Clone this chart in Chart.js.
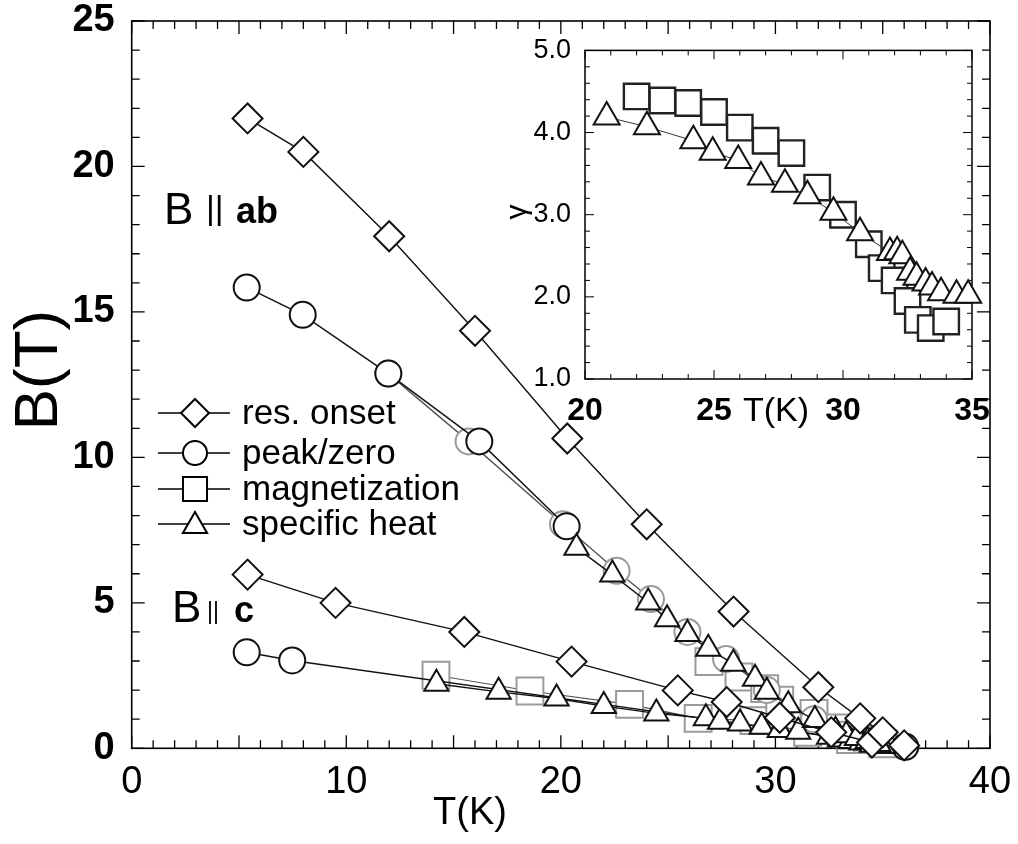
<!DOCTYPE html>
<html><head><meta charset="utf-8">
<script src="https://cdn.jsdelivr.net/npm/chart.js@4.4.0/dist/chart.umd.min.js"></script>
<style>
html,body{margin:0;padding:0;background:#fff;}
#wrap{position:relative;width:1018px;height:844px;overflow:hidden;}
#main{position:absolute;left:0;top:0;}
#inset{position:absolute;left:500px;top:30px;}
</style></head><body>
<div id="wrap">
<canvas id="main" width="1018" height="844"></canvas>
<canvas id="inset" width="500" height="410"></canvas>
</div>
<script>
// ---------- Main panel data: B (T) vs T (K) ----------
const xTickLabels = [0, 10, 20, 30, 40];
const yTickLabels = [0, 5, 10, 15, 20, 25];

const resAbT = [5.4, 8.0, 12.0, 16.0, 20.3, 24.0, 28.05, 32.0, 33.95, 35.0, 36.0];
const resAbB = [21.65, 20.5, 17.6, 14.35, 10.65, 7.7, 4.7, 2.1, 1.03, 0.55, 0.1];

const resCT = [5.4, 9.5, 15.5, 20.5, 25.45, 27.73, 30.2, 32.6, 34.5];
const resCB = [5.97, 5.0, 4.0, 2.98, 1.99, 1.59, 1.05, 0.55, 0.2];

const peakAbT = [5.36, 7.97, 11.96, 16.2, 20.27];
const peakAbB = [15.84, 14.9, 12.88, 10.55, 7.63];

const zeroAbT = [11.96, 15.7, 20.1, 22.6, 24.2, 25.9, 27.7, 29.6, 31.8, 34.0, 36.05];
const zeroAbB = [12.88, 10.55, 7.7, 6.1, 5.13, 4.0, 3.07, 2.0, 1.0, 0.35, 0.05];

const peakCT = [5.36, 7.48, 36.05];
const peakCB = [3.30, 3.02, 0.05];

const magAbT = [26.9, 28.3, 29.5, 30.2, 31.8, 32.8, 33.6, 34.3, 35.0];
const magAbB = [2.98, 2.45, 2.05, 1.65, 1.2, 0.7, 0.45, 0.3, 0.15];

const magCT = [14.18, 18.56, 23.2, 26.4, 29.0, 31.5, 33.5];
const magCB = [2.51, 1.97, 1.51, 1.03, 0.95, 0.55, 0.3];

const heatAbT = [20.73, 22.4, 24.07, 24.95, 25.9, 26.87, 28.04, 29.05, 29.6, 30.6, 31.84, 32.8, 33.3, 33.8, 34.3, 34.8];
const heatAbB = [6.89, 5.97, 5.01, 4.44, 3.93, 3.42, 2.91, 2.39, 1.94, 1.48, 0.97, 0.6, 0.45, 0.35, 0.25, 0.15];

const heatCT = [14.2, 17.1, 19.8, 22.0, 24.45, 26.76, 27.42, 28.35, 29.36, 30.2, 31.06, 32.5, 33.0, 33.5, 34.0, 34.5, 35.0];
const heatCB = [2.22, 1.94, 1.71, 1.45, 1.2, 1.03, 0.91, 0.85, 0.74, 0.63, 0.57, 0.4, 0.3, 0.25, 0.2, 0.12, 0.08];

// ---------- Inset data: gamma vs T (K) ----------
const insetXTickLabels = [20, 25, 30, 35];
const insetYTickLabels = [1.0, 2.0, 3.0, 4.0, 5.0];

const gammaMagT = [22.0, 23.0, 24.0, 25.0, 26.0, 27.0, 28.0, 29.0, 30.0, 31.0, 31.5, 32.0, 32.5, 32.9, 33.4, 34.0];
const gammaMagV = [4.44, 4.39, 4.36, 4.25, 4.06, 3.90, 3.75, 3.33, 3.0, 2.64, 2.35, 2.2, 1.95, 1.72, 1.62, 1.7];

const gammaHeatT = [20.84, 22.4, 24.2, 24.95, 25.94, 26.82, 27.75, 28.62, 29.63, 30.66, 31.82, 32.1, 32.3, 32.6, 32.85, 33.2, 33.45, 33.8, 34.4, 34.85];
const gammaHeatV = [4.19, 4.07, 3.90, 3.76, 3.66, 3.46, 3.37, 3.23, 3.03, 2.78, 2.54, 2.55, 2.5, 2.3, 2.24, 2.17, 2.12, 2.05, 2.02, 2.02];

const legendLabels = ['res. onset', 'peak/zero', 'magnetization', 'specific heat'];

function pts(xs, ys) { return xs.map((x, i) => ({x: x, y: ys[i]})); }

const FONT = "'Liberation Sans', Arial, Helvetica, sans-serif";

function series(label, xs, ys, style, r, col, lineCol, lw) {
  return {
    label: label, data: pts(xs, ys), showLine: true,
    borderColor: lineCol, borderWidth: lw,
    pointStyle: style, pointRadius: r, pointHoverRadius: r,
    pointBorderColor: col, pointBackgroundColor: '#fff', pointBorderWidth: 2,
    clip: false
  };
}

function drawMarker(ctx, style, x, y, r) {
  ctx.beginPath();
  if (style === 'rectRot') {
    ctx.moveTo(x, y - r); ctx.lineTo(x + r, y); ctx.lineTo(x, y + r); ctx.lineTo(x - r, y); ctx.closePath();
  } else if (style === 'circle') {
    ctx.arc(x, y, r, 0, Math.PI * 2);
  } else if (style === 'rect') {
    const s = r * Math.SQRT1_2; ctx.rect(x - s, y - s, 2 * s, 2 * s);
  } else if (style === 'triangle') {
    ctx.moveTo(x, y - r);
    ctx.lineTo(x + r * Math.sin(2 * Math.PI / 3), y - r * Math.cos(2 * Math.PI / 3));
    ctx.lineTo(x + r * Math.sin(4 * Math.PI / 3), y - r * Math.cos(4 * Math.PI / 3));
    ctx.closePath();
  }
  ctx.fillStyle = '#fff'; ctx.fill(); ctx.stroke();
}

function zeroPad(s) { s.paddingTop = 0; s.paddingBottom = 0; s.paddingLeft = 0; s.paddingRight = 0; }

function frameTicks(o) {
  return {
    id: 'frameTicks_' + o.name,
    beforeDatasetsDraw(chart) {
      const ctx = chart.ctx, a = chart.chartArea, x = chart.scales.x, y = chart.scales.y;
      ctx.save();
      ctx.strokeStyle = '#000'; ctx.lineWidth = o.lw;
      ctx.strokeRect(a.left, a.top, a.right - a.left, a.bottom - a.top);
      ctx.lineWidth = o.tlw;
      const eps = 1e-6;
      const nx = Math.round((x.max - x.min) / o.xMinor);
      for (let i = 0; i <= nx; i++) {
        const v = x.min + i * o.xMinor;
        const p = x.getPixelForValue(v);
        const q = v / o.xMajor;
        const L = Math.abs(q - Math.round(q)) < eps ? o.majorLen : o.minorLen;
        ctx.beginPath();
        ctx.moveTo(p, a.bottom); ctx.lineTo(p, a.bottom - L);
        ctx.moveTo(p, a.top); ctx.lineTo(p, a.top + L);
        ctx.stroke();
      }
      const ny = Math.round((y.max - y.min) / o.yMinor);
      for (let i = 0; i <= ny; i++) {
        const v = y.min + i * o.yMinor;
        const p = y.getPixelForValue(v);
        const q = v / o.yMajor;
        const L = Math.abs(q - Math.round(q)) < eps ? o.majorLen : o.minorLen;
        ctx.beginPath();
        ctx.moveTo(a.left, p); ctx.lineTo(a.left + L, p);
        ctx.moveTo(a.right, p); ctx.lineTo(a.right - L, p);
        ctx.stroke();
      }
      ctx.restore();
    }
  };
}

const mainText = {
  id: 'mainText',
  afterDraw(chart) {
    const ctx = chart.ctx;
    ctx.save();
    ctx.fillStyle = '#000';
    ctx.textBaseline = 'middle';
    // axis titles
    ctx.textAlign = 'center';
    ctx.font = '38px ' + FONT;
    ctx.fillText('T(K)', 470, 814);
    ctx.save();
    ctx.translate(40, 370); ctx.rotate(-Math.PI / 2);
    ctx.font = '62px ' + FONT;
    ctx.fillText('B(T)', 0, 0);
    ctx.restore();
    // legend
    const styles = ['rectRot', 'circle', 'rect', 'triangle'];
    const radii = [14, 12, 17, 14];
    const rows = [413, 453, 489, 524];
    ctx.strokeStyle = '#000'; ctx.lineWidth = 1.6;
    ctx.textAlign = 'left';
    ctx.font = '35px ' + FONT;
    for (let i = 0; i < 4; i++) {
      const yy = rows[i];
      ctx.beginPath(); ctx.moveTo(158, yy); ctx.lineTo(230, yy); ctx.stroke();
      ctx.lineWidth = 2;
      drawMarker(ctx, styles[i], 195, yy + (i === 3 ? 2 : 0), radii[i]);
      ctx.lineWidth = 1.6;
      ctx.fillStyle = '#000';
      ctx.fillText(legendLabels[i], 242, yy + 1);
    }
    // field orientation labels
    ctx.textBaseline = 'alphabetic';
    ctx.font = '44px ' + FONT; ctx.fillText('B', 164, 224);
    ctx.font = '34px ' + FONT; ctx.fillText('||', 206, 219);
    ctx.font = 'bold 36px ' + FONT; ctx.fillText('ab', 236, 223);
    ctx.font = '44px ' + FONT; ctx.fillText('B', 172, 622);
    ctx.font = '23px ' + FONT; ctx.fillText('||', 207, 619);
    ctx.font = 'bold 36px ' + FONT; ctx.fillText('c', 234, 622);
    ctx.restore();
  }
};

const BLACK = '#111', GRAY = '#9a9a9a';

new Chart(document.getElementById('main'), {
  type: 'scatter',
  data: {
    datasets: [
      series('res. onset B||ab', resAbT, resAbB, 'rectRot', 15, BLACK, BLACK, 1.4),
      series('res. onset B||c', resCT, resCB, 'rectRot', 15, BLACK, BLACK, 1.4),
      series('specific heat B||ab', heatAbT, heatAbB, 'triangle', 14, BLACK, BLACK, 1.4),
      series('specific heat B||c', heatCT, heatCB, 'triangle', 14, BLACK, BLACK, 1.4),
      series('peak B||ab', peakAbT, peakAbB, 'circle', 13, BLACK, BLACK, 1.4),
      series('peak B||c', peakCT, peakCB, 'circle', 13, BLACK, BLACK, 1.4),
      series('zero B||ab', zeroAbT, zeroAbB, 'circle', 13, GRAY, '#555', 1.4),
      series('magnetization B||ab', magAbT, magAbB, 'rect', 19, GRAY, GRAY, 1.2),
      series('magnetization B||c', magCT, magCB, 'rect', 19, GRAY, '#555', 1.2)
    ]
  },
  options: {
    responsive: false, animation: false, devicePixelRatio: 1,
    layout: {padding: {left: 0, top: 17, right: 28, bottom: 0}},
    plugins: {legend: {display: false}, tooltip: {enabled: false}},
    scales: {
      x: {
        type: 'linear', min: 0, max: 40,
        afterBuildTicks(s) { s.ticks = xTickLabels.map(v => ({value: v})); },
        ticks: {color: '#000', font: {family: FONT, size: 38}, padding: 3, maxRotation: 0},
        grid: {display: false}, border: {display: false},
        afterFit(s) { s.height = 95.7; zeroPad(s); }
      },
      y: {
        type: 'linear', min: 0, max: 25,
        afterBuildTicks(s) { s.ticks = yTickLabels.map(v => ({value: v})); },
        ticks: {color: '#000', font: {family: FONT, size: 38, weight: 'bold'}, padding: 9},
        grid: {display: false}, border: {display: false},
        afterFit(s) { s.width = 131.7; zeroPad(s); }
      }
    }
  },
  plugins: [frameTicks({name: 'main', lw: 1.6, tlw: 1.3, xMinor: 1, xMajor: 5, yMinor: 1, yMajor: 5, minorLen: 8, majorLen: 13}), mainText]
});

const insetText = {
  id: 'insetText',
  afterDraw(chart) {
    const ctx = chart.ctx;
    ctx.save();
    ctx.fillStyle = '#000'; ctx.textAlign = 'center'; ctx.textBaseline = 'middle';
    ctx.font = '34px ' + FONT;
    ctx.fillText('T(K)', 276, 382);
    ctx.translate(18, 182); ctx.rotate(-Math.PI / 2);
    ctx.font = '30px ' + FONT;
    ctx.fillText('γ', 0, 0);
    ctx.restore();
  }
};

new Chart(document.getElementById('inset'), {
  type: 'scatter',
  data: {
    datasets: [
      {label: 'specific heat', data: pts(gammaHeatT, gammaHeatV), showLine: true, borderColor: '#333', borderWidth: 1,
       pointStyle: 'triangle', pointRadius: 15, pointBorderColor: '#111', pointBackgroundColor: '#fff', pointBorderWidth: 2, clip: false},
      {label: 'magnetization', data: pts(gammaMagT, gammaMagV), showLine: false,
       pointStyle: 'rect', pointRadius: 18, pointBorderColor: '#222', pointBackgroundColor: '#fff', pointBorderWidth: 2.4, clip: false}
    ]
  },
  options: {
    responsive: false, animation: false, devicePixelRatio: 1,
    layout: {padding: {left: 0, top: 20, right: 28, bottom: 0}},
    plugins: {legend: {display: false}, tooltip: {enabled: false}},
    scales: {
      x: {
        type: 'linear', min: 20, max: 35,
        afterBuildTicks(s) { s.ticks = insetXTickLabels.map(v => ({value: v})); },
        ticks: {color: '#000', font: {family: FONT, size: 32, weight: 'bold'}, padding: 5, maxRotation: 0},
        grid: {display: false}, border: {display: false},
        afterFit(s) { s.height = 61; zeroPad(s); }
      },
      y: {
        type: 'linear', min: 1, max: 5,
        afterBuildTicks(s) { s.ticks = insetYTickLabels.map(v => ({value: v})); },
        ticks: {color: '#000', font: {family: FONT, size: 27}, padding: 6, callback: v => Number(v).toFixed(1)},
        grid: {display: false}, border: {display: false},
        afterFit(s) { s.width = 85; zeroPad(s); }
      }
    }
  },
  plugins: [frameTicks({name: 'inset', lw: 1.5, tlw: 1, xMinor: 1, xMajor: 5, yMinor: 0.2, yMajor: 1, minorLen: 5, majorLen: 9}), insetText]
});
</script>
</body></html>
